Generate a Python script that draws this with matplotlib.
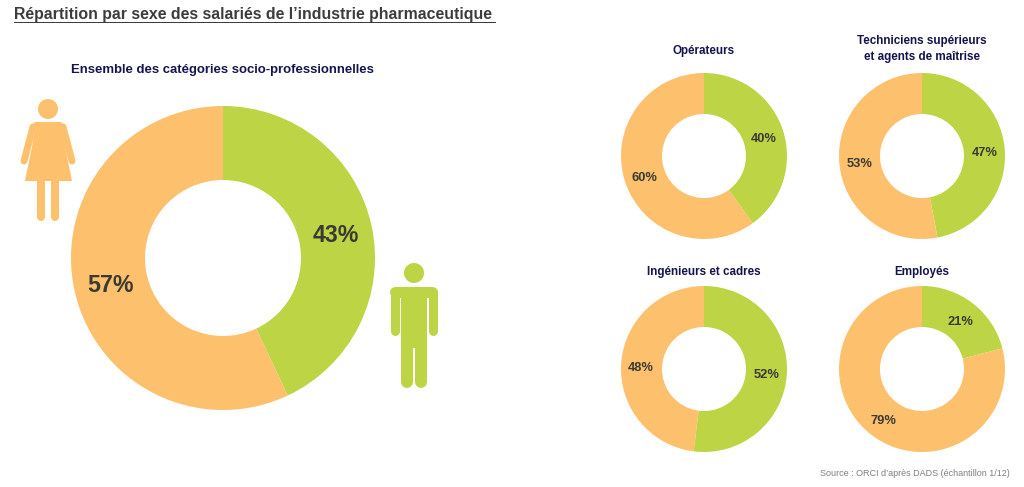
import matplotlib
matplotlib.use('Agg')
import matplotlib.pyplot as plt
from matplotlib.patches import Circle, Polygon, Rectangle

### data ###
main_title = 'Ensemble des catégories socio-professionnelles'
main_values = [43, 57]

small_titles = ['Opérateurs', 'Techniciens supérieurs\net agents de maîtrise',
                'Ingénieurs et cadres', 'Employés']
hommes = [40, 47, 52, 21]
femmes = [60, 53, 48, 79]

### style ###
W, H = 1024, 487
GREEN = '#bdd444'
ORANGE = '#fdc06c'
NAVY = '#14144f'
DARK = '#3a3a32'
plt.rcParams['font.family'] = ['Liberation Sans', 'DejaVu Sans']

fig = plt.figure(figsize=(W / 100, H / 100), dpi=100)

# overlay in pixel coordinates for titles and the two icons
over = fig.add_axes([0, 0, 1, 1], zorder=5)
over.set_xlim(0, W)
over.set_ylim(H, 0)
over.axis('off')


def donut(cx, cy, r, inner, values, fontsize):
    ax = fig.add_axes([(cx - r) / W, 1 - (cy + r) / H, 2 * r / W, 2 * r / H])
    wedges, texts, pcts = ax.pie(values, colors=[GREEN, ORANGE], startangle=90,
                                 counterclock=False, radius=1,
                                 wedgeprops=dict(width=1 - inner / r),
                                 autopct='%.0f%%', pctdistance=0.76,
                                 textprops=dict(fontsize=fontsize, fontweight='bold', color=DARK))
    ax.set_xlim(-1, 1)
    ax.set_ylim(-1, 1)
    # labels sit a little lower than pie's default centring
    for t in pcts:
        x, y = t.get_position()
        t.set_position((x, y - 2.5 / r))


# big donut
donut(223, 258, 152, 78, main_values, 16.7)

# small donuts
centres = [(704, 156), (922, 156), (704, 369), (922, 369)]
for (cx, cy), h, f in zip(centres, hommes, femmes):
    donut(cx, cy, 83, 42, [h, f], 9.3)

# titles
over.text(14, 14, 'Répartition par sexe des salariés de l’industrie pharmaceutique',
          fontsize=11.45, fontweight='bold', color='#3c3c3c', va='center', ha='left')
over.add_patch(Rectangle((14, 22), 482, 1.4, color='#3c3c3c', lw=0))
over.text(222, 70, main_title, fontsize=9.45, fontweight='bold', color=NAVY,
          ha='center', va='center')

title_pos = [(704, 51), (922, 49), (704, 272), (922, 272)]
for (x, y), t in zip(title_pos, small_titles):
    over.text(x, y, t, fontsize=8.4, fontweight='bold', color=NAVY,
              ha='center', va='center', linespacing=1.45)

over.text(1010, 473, 'Source : ORCI d’après DADS (échantillon 1/12)', fontsize=6.5,
          color='#7f7f7f', ha='right', va='center')


def limb(x0, y0, x1, y1, width, color):
    over.plot([x0, x1], [y0, y1], color=color, lw=width * 0.72, solid_capstyle='round')


# woman icon
over.add_patch(Circle((48, 109), 10, color=ORANGE, lw=0))
over.add_patch(Polygon([(37, 122), (60, 122), (72, 181), (25, 181)], color=ORANGE, lw=0))
limb(33, 127, 24, 161, 7, ORANGE)
limb(63, 127, 72, 161, 7, ORANGE)
limb(41, 180, 41, 217, 8, ORANGE)
limb(55, 180, 55, 217, 8, ORANGE)
limb(36, 125, 60, 125, 6, ORANGE)

# man icon
over.add_patch(Circle((414, 273), 10, color=GREEN, lw=0))
over.add_patch(Rectangle((401, 288), 26, 60, color=GREEN, lw=0))
limb(395, 292, 432, 292, 11, GREEN)
limb(394.5, 292, 394.5, 331, 9, GREEN)
limb(432.5, 292, 432.5, 331, 9, GREEN)
limb(407, 340, 407, 382, 12, GREEN)
limb(421, 340, 421, 382, 12, GREEN)

fig.savefig('out.png', dpi=100)
